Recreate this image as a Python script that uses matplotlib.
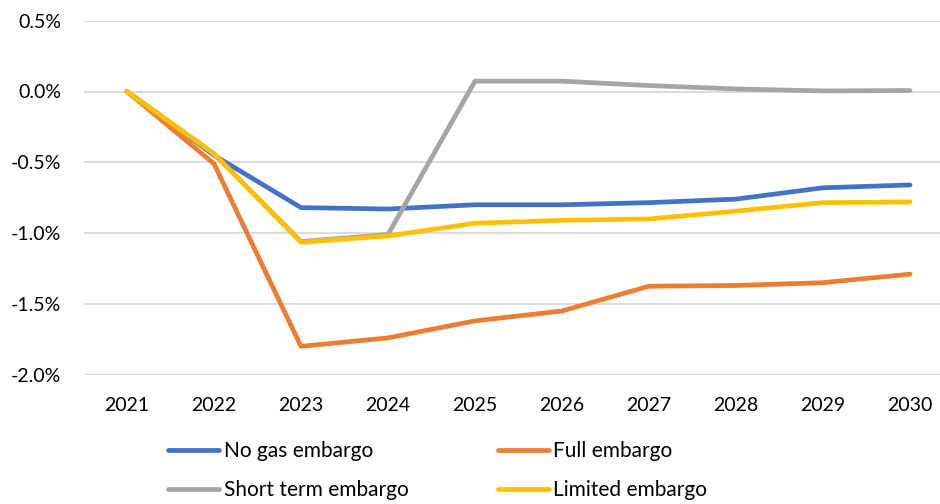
import numpy as np
import matplotlib.pyplot as plt
from matplotlib.ticker import FuncFormatter

plt.rcParams['font.family'] = ['Lato', 'DejaVu Sans']

years = ['2021', '2022', '2023', '2024', '2025', '2026', '2027', '2028', '2029', '2030']

no_gas_embargo = [0.0, -0.45, -0.82, -0.83, -0.80, -0.80, -0.785, -0.76, -0.68, -0.66]
full_embargo = [0.0, -0.51, -1.80, -1.74, -1.62, -1.55, -1.375, -1.37, -1.35, -1.29]
short_term_embargo = [0.0, -0.44, -1.06, -1.01, 0.073, 0.073, 0.042, 0.018, 0.004, 0.007]
limited_embargo = [0.0, -0.44, -1.065, -1.02, -0.93, -0.91, -0.90, -0.845, -0.785, -0.78]

series = [
    ('No gas embargo', no_gas_embargo, '#4472C4'),
    ('Full embargo', full_embargo, '#ED7D31'),
    ('Short term embargo', short_term_embargo, '#A5A5A5'),
    ('Limited embargo', limited_embargo, '#FFC000'),
]

fig = plt.figure(figsize=(9.4, 5.04), dpi=100)
ax = fig.add_axes([83.5/940, 1 - 374.7/504, 870/940, (374.7 - 20.7)/504])

x = np.arange(len(years))
lines = {}
for name, vals, col in series:
    lines[name], = ax.plot(x, vals, color=col, lw=3.4, solid_capstyle='round',
                           solid_joinstyle='round', label=name)

ax.set_xlim(-0.5, len(years) - 0.5)
ax.set_ylim(-2.0, 0.5)
ax.set_yticks(np.arange(-2.0, 0.51, 0.5))
ax.yaxis.set_major_formatter(FuncFormatter(lambda v, p: f'{v:.1f}%'))
ax.set_xticks(x)
ax.set_xticklabels(years)
ax.grid(axis='y', color='#D9D9D9', lw=1.3)
ax.set_axisbelow(True)
for s in ax.spines.values():
    s.set_visible(False)
ax.tick_params(axis='both', length=0, labelsize=14, colors='#000000')
ax.tick_params(axis='y', pad=16)
ax.tick_params(axis='x', pad=16)

order = ['No gas embargo', 'Short term embargo', 'Full embargo', 'Limited embargo']
fig.legend([lines[n] for n in order], order, ncol=2, frameon=False,
           loc='upper left', bbox_to_anchor=(158/940, 1 - 431/504),
           fontsize=15, handlelength=2.45, handletextpad=0.2,
           columnspacing=4.3, labelspacing=0.9, borderpad=0)

fig.savefig('out.png', dpi=100)
